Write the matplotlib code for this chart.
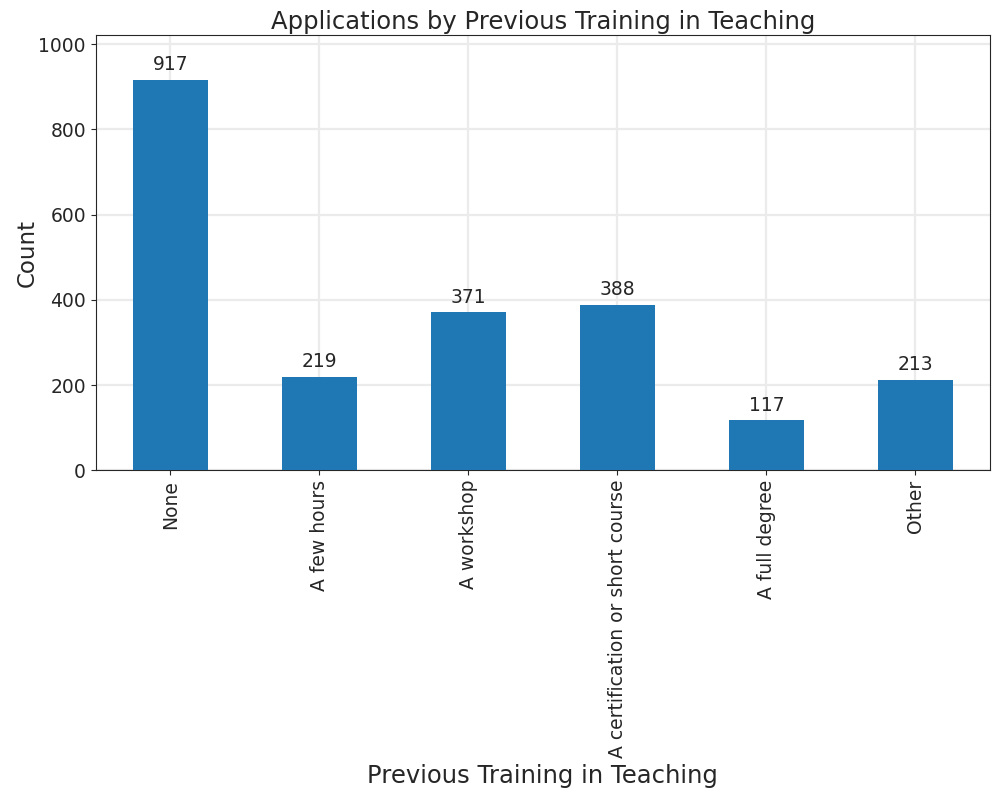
import matplotlib
matplotlib.use('Agg')
import matplotlib.pyplot as plt
import pandas as pd

# datos
categorias = ['None', 'A few hours', 'A workshop', 'A certification or short course', 'A full degree', 'Other']
conteos = [917, 219, 371, 388, 117, 213]

gris = '#262626'
plt.rcParams['text.color'] = gris
plt.rcParams['axes.labelcolor'] = gris
plt.rcParams['xtick.color'] = gris
plt.rcParams['ytick.color'] = gris
plt.rcParams['axes.edgecolor'] = gris

serie = pd.Series(conteos, index=categorias)

fig = plt.figure(figsize=(9.97, 7.93), dpi=100)
ax = fig.add_axes([0.096, 0.407, 0.897, 0.549])
serie.plot(kind='bar', ax=ax, color='#1f77b4', zorder=3)
ax.grid(True, color='#ebebeb', linewidth=1.6, zorder=0)
ax.set_ylim(0, 1022)
ax.set_title('Applications by Previous Training in Teaching', fontsize=17.5, pad=4)
ax.set_xlabel('Previous Training in Teaching', fontsize=17.5)
ax.set_ylabel('Count', fontsize=16.5, labelpad=0)
ax.tick_params(labelsize=13.5)

# etiquetas encima de cada barra
for i, v in enumerate(conteos):
    ax.annotate(str(v), (i, v), xytext=(0, 4), textcoords='offset points',
                ha='center', va='bottom', fontsize=13.5)

plt.savefig('out.png', dpi=100)
